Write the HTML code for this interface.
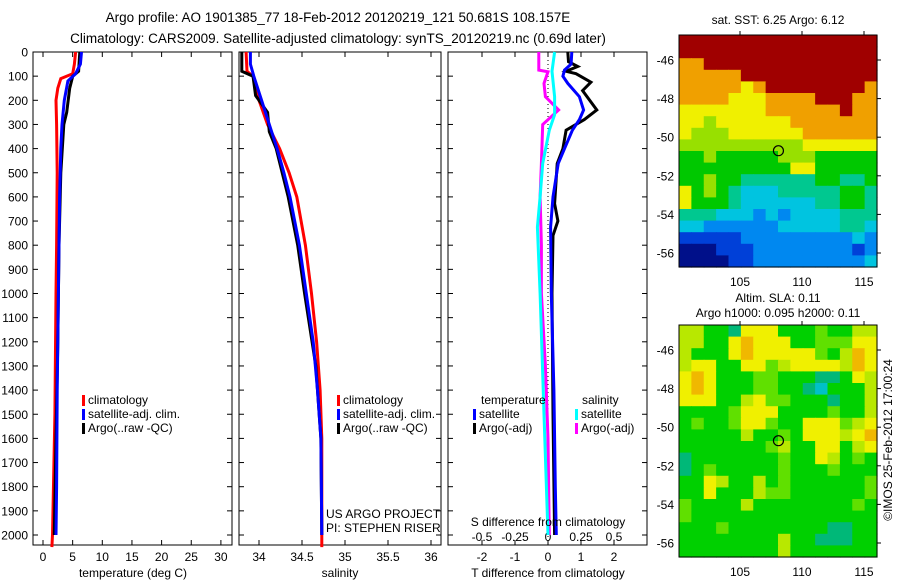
<!DOCTYPE html>
<html><head><meta charset="utf-8"><style>
body{margin:0;background:#fff;}
svg{display:block;font-family:"Liberation Sans",sans-serif;}
text{fill:#000;}
</style></head><body>
<svg id="fig" width="900" height="580">
<text x="338" y="22" font-size="13.5" text-anchor="middle">Argo profile: AO 1901385_77 18-Feb-2012 20120219_121 50.681S 108.157E</text>
<text x="338" y="43" font-size="13.5" text-anchor="middle">Climatology: CARS2009. Satellite-adjusted climatology: synTS_20120219.nc (0.69d later)</text>
<text x="778" y="24" font-size="12" text-anchor="middle">sat. SST: 6.25 Argo: 6.12</text>
<text x="778" y="302" font-size="12" text-anchor="middle">Altim. SLA: 0.11</text>
<text x="778" y="317" font-size="12" text-anchor="middle">Argo h1000: 0.095 h2000: 0.11</text>
<text transform="translate(892,440) rotate(-90)" font-size="12" text-anchor="middle">©IMOS 25-Feb-2012 17:00:24</text>
<g id="g"></g>
</svg>
<script>
// ---- data ----
const depthTicks = [0,100,200,300,400,500,600,700,800,900,1000,1100,1200,1300,1400,1500,1600,1700,1800,1900,2000];
const tempTicks = [0,5,10,15,20,25,30];
const salTicks = [34,34.5,35,35.5,36];
const tdiffTicks = [-2,-1,0,1,2];
const sdiffTicks = [-0.5,-0.25,0,0.25,0.5];
const tClimDepth = [0,50,90,110,150,200,300,500,800,1000,1500,2000,2050];
const tClimVal = [5.5,5.3,5.0,3.0,2.5,2.2,2.3,2.4,2.3,2.2,2.0,1.6,1.5];
const tSatDepth = [0,50,90,120,200,300,400,600,1000,1400,1800,2000];
const tSatVal = [6.5,6.3,5.5,4.2,3.6,3.2,3.0,2.8,2.6,2.4,2.3,2.2];
const tArgoDepth = [0,80,100,150,250,300,500,800,1200,1600,2000];
const tArgoVal = [6.2,6.0,5.0,4.5,4.0,3.5,3.0,2.7,2.5,2.2,1.9];
const sClimDepth = [0,80,100,200,300,400,500,600,800,1000,1200,1400,1600,2050];
const sClimVal = [33.85,33.86,33.93,34.0,34.1,34.24,34.35,34.44,34.54,34.61,34.67,34.71,34.73,34.73];
const sSatDepth = [0,50,100,200,300,400,500,600,800,1000,1200,1400,1600,2000];
const sSatVal = [33.9,33.9,33.94,34.03,34.12,34.21,34.29,34.36,34.47,34.55,34.63,34.68,34.72,34.73];
const sArgoDepth = [0,80,100,180,250,330,400,600,800,1000,1300,1600,2000];
const sArgoVal = [33.8,33.8,33.93,33.96,34.1,34.12,34.2,34.34,34.45,34.53,34.66,34.72,34.73];
const dTSatDepth = [0,50,75,100,130,185,240,280,324,400,462,600,725,1000,1400,1800,2000];
const dTSatVal = [0.72,0.7,0.5,0.45,0.6,0.95,1.08,0.95,0.74,0.5,0.31,0.15,0.08,0.1,0.18,0.22,0.25];
const dTArgoDepth = [0,40,60,80,90,125,160,240,280,324,400,462,628,700,760,1000,1500,2000];
const dTArgoVal = [0.6,0.62,0.9,0.55,0.85,1.3,1.05,1.48,1.1,0.55,0.45,0.28,0.2,0.3,0.15,0.12,0.15,0.2];
const dSSatDepth = [0,80,185,260,324,462,600,725,1000,1500,2000];
const dSSatVal = [0.05,0.03,0.05,0.05,0.01,-0.04,-0.06,-0.08,-0.06,-0.03,0];
const dSArgoDepth = [0,75,82,130,185,240,300,462,600,800,1000,1300,1600,2000];
const dSArgoVal = [-0.07,-0.07,0,-0.03,-0.02,0.08,-0.04,-0.05,-0.06,-0.05,-0.05,-0.02,0,0.01];
const latTicks = [-46,-48,-50,-52,-54,-56];
const lonTicks = [105,110,115];
const sstGrid = [
"9999999999999999","9999999999999999","8899999999999999","8888899999999999",
"8888878999999998","8888777888899988","7777777888888988","7767777778888888",
"7666777777888888","6666666666777777","5565555566655555","5555555557755555",
"5565544444455445","7565433344444554","7555433333344554","4443332323333444",
"3322222233333443","1111122222222232","0001112222222212","0000112222222223"];
const slaGrid = [
"4422155522232244","4422565552233355","4222565555532465","4552255345555465",
"5652223322211254","5652223322102224","5552245332221224","2222355522223224",
"2322355322555345","2222242232555456","2222222342255245","1222222232254232",
"1232222232223222","2254224232222223","2252224332222223","3222242222222232",
"3222222222222222","2223222222221122","2222222242211122","2222222242222222"];
const argoLon = 108.1, argoLat = -50.7;

// ---- helpers ----
const NS='http://www.w3.org/2000/svg';
const G=document.getElementById('g');
function el(tag,attrs,parent){const e=document.createElementNS(NS,tag);for(const k in attrs)e.setAttribute(k,attrs[k]);(parent||G).appendChild(e);return e;}
const yD = d => 52 + d*0.2415;
const xT = v => 43 + v*5.93;
const xS = v => 259 + (v-34)*86;
const xDT = v => 548 + v*33;
const xDS = v => 548 + v*132;
const panels=[{x0:33,x1:232,name:'temperature-panel'},{x0:239,x1:441,name:'salinity-panel'},{x0:448,x1:647,name:'difference-panel'}];
const Y0=52, Y1=545;

panels.forEach((p,i)=>{
  const r=el('rect',{x:p.x0,y:Y0,width:p.x1-p.x0,height:Y1-Y0,fill:'none',stroke:'#000','stroke-width':1});
  
  
  depthTicks.forEach(d=>{
    const y=yD(d);
    const t1=el('line',{x1:p.x0,x2:p.x0+5,y1:y,y2:y,stroke:'#000'});
    
    
    const t2=el('line',{x1:p.x1-5,x2:p.x1,y1:y,y2:y,stroke:'#000'});
    
    
    if(i===0){
      const t=el('text',{x:28,y:y+4.5,'font-size':12,'text-anchor':'end'});
      t.textContent=d;
      
      
    }
  });
});
function xticks(ticks,fx,y,lbl){
  ticks.forEach(v=>{
    const x=fx(v);
    const a=el('line',{x1:x,x2:x,y1:Y1,y2:Y1-5,stroke:'#000'});
    
    
    const b=el('line',{x1:x,x2:x,y1:Y0,y2:Y0+5,stroke:'#000'});
    
    
    const t=el('text',{x:x,y:y,'font-size':12,'text-anchor':'middle'});
    t.textContent=v;
    
    
  });
}
xticks(tempTicks,xT,561,'temperature-tick-label');
xticks(salTicks,xS,561,'salinity-tick-label');
xticks(tdiffTicks,xDT,561,'t-difference-tick-label');
sdiffTicks.forEach(v=>{
  const t=el('text',{x:xDS(v),y:541,'font-size':12,'text-anchor':'middle'});
  t.textContent=v;
  
  
});
[['temperature (deg C)',133,'temperature-axis-title'],['salinity',340,'salinity-axis-title'],['T difference from climatology',548,'t-difference-axis-title']].forEach(a=>{
  const t=el('text',{x:a[1],y:577,'font-size':12,'text-anchor':'middle'});
  t.textContent=a[0];
  
  
});
const z=el('line',{x1:xDT(0),x2:xDT(0),y1:Y0,y2:Y1,stroke:'#000','stroke-dasharray':'1,3'});



function series(ds,vs,fx,color,name){
  const pts=ds.map((d,i)=>fx(vs[i]).toFixed(1)+','+yD(d).toFixed(1)).join(' ');
  const l=el('polyline',{points:pts,fill:'none',stroke:color,'stroke-width':3});
  
  
}
series(tClimDepth,tClimVal,xT,'#ff0000','temp-climatology-line');
series(tArgoDepth,tArgoVal,xT,'#000','temp-argo-line');
series(tSatDepth,tSatVal,xT,'#0000ff','temp-satellite-line');
series(sClimDepth,sClimVal,xS,'#ff0000','sal-climatology-line');
series(sArgoDepth,sArgoVal,xS,'#000','sal-argo-line');
series(sSatDepth,sSatVal,xS,'#0000ff','sal-satellite-line');
series(dSArgoDepth,dSArgoVal,xDS,'#ff00ff','sdiff-argo-line');
series(dSSatDepth,dSSatVal,xDS,'#00ffff','sdiff-satellite-line');
series(dTArgoDepth,dTArgoVal,xDT,'#000','tdiff-argo-line');
series(dTSatDepth,dTSatVal,xDT,'#0000ff','tdiff-satellite-line');

function legend(x,y,color,label,name){
  const r=el('rect',{x:x,y:y-9,width:3,height:11,fill:color});
  
  
  const t=el('text',{x:x+6,y:y,'font-size':12});
  t.textContent=label;
  
  
}
[[82,'p1'],[337,'p2']].forEach(a=>{
  legend(a[0],404,'#ff0000','climatology',a[1]+'-legend-climatology');
  legend(a[0],418,'#0000ff','satellite-adj. clim.',a[1]+'-legend-satellite');
  legend(a[0],432,'#000','Argo(..raw -QC)',a[1]+'-legend-argo');
});
const lt=el('text',{x:481,y:404,'font-size':12});lt.textContent='temperature';


const ls=el('text',{x:582,y:404,'font-size':12});ls.textContent='salinity';


legend(473,418,'#0000ff','satellite','legend-t-satellite');
legend(473,432,'#000','Argo(-adj)','legend-t-argo');
legend(575,418,'#00ffff','satellite','legend-s-satellite');
legend(575,432,'#ff00ff','Argo(-adj)','legend-s-argo');
[['US ARGO PROJECT',518,'project-label'],['PI: STEPHEN RISER',532,'pi-label']].forEach(a=>{
  const t=el('text',{x:326,y:a[1],'font-size':12});t.textContent=a[0];
  
  
});
const sd=el('text',{x:548,y:526,'font-size':12,'text-anchor':'middle'});sd.textContent='S difference from climatology';



// ---- maps ----
const sstPal=['#00108a','#0040d8','#0088f0','#00c4e0','#00c890','#00c800','#98e000','#f0f000','#f0a000','#a00000'];
const slaPal=['#00c0c8','#00b878','#00d000','#60e000','#b8e800','#f0f000','#f0b800'];
const MX0=679, MX1=877;
const lonX = lon => 740 + (lon-105)*12.4;
function drawMap(grid,pal,y0,y1,lat46,lat56,name){
  const latY = lat => lat46 + (-46-lat)*(lat56-lat46)/10;
  const rows=grid.length, cols=grid[0].length;
  const cw=(MX1-MX0)/cols, rh=(y1-y0)/rows;
  grid.forEach((row,r)=>{
    for(let c=0;c<cols;c++){
      const cell=el('rect',{x:(MX0+c*cw).toFixed(2),y:(y0+r*rh).toFixed(2),width:(cw+0.6).toFixed(2),height:(rh+0.6).toFixed(2),fill:pal[+row[c]]});
      
      
    }
  });
  const f=el('rect',{x:MX0,y:y0,width:MX1-MX0,height:y1-y0,fill:'none',stroke:'#000'});
  
  
  latTicks.forEach(l=>{
    const y=latY(l);
    const a=el('line',{x1:MX1,x2:MX1+4,y1:y,y2:y,stroke:'#000'});
    
    
    const t=el('text',{x:674,y:y+4.5,'font-size':12,'text-anchor':'end'});t.textContent=l;
    
    
  });
  lonTicks.forEach(l=>{
    const x=lonX(l);
    const a=el('line',{x1:x,x2:x,y1:y0-4,y2:y0,stroke:'#000'});
    
    
    const t=el('text',{x:x,y:y1+19,'font-size':12,'text-anchor':'middle'});t.textContent=l;
    
    
  });
  const c=el('circle',{cx:lonX(argoLon),cy:latY(argoLat),r:5,fill:'none',stroke:'#000','stroke-width':1.2});
  
  
}
drawMap(sstGrid,sstPal,35,267,60,253,'sst-map');
drawMap(slaGrid,slaPal,325,557,350,543,'sla-map');
</script>
</body></html>
